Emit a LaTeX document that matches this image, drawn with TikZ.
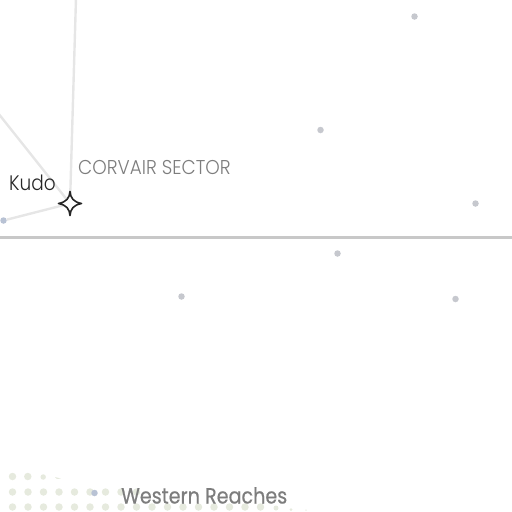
\documentclass[tikz,border=0pt]{standalone}
\usepackage{fontspec}
\setmainfont{Poppins}
\newfontfamily\sectorfont{Poppins Light}[FakeStretch=0.92]
\newfontfamily\namefont{Poppins Light}[FakeStretch=0.88]
\newfontfamily\regionfont{Poppins}[FakeStretch=0.87,FakeBold=0.5]
\usepackage{xcolor}
\definecolor{mroute}{RGB}{230,230,230}
\definecolor{mborder}{RGB}{200,200,200}
\definecolor{mstar}{RGB}{198,200,206}
\definecolor{mnear}{RGB}{184,194,212}
\definecolor{mhex}{RGB}{230,234,222}
\definecolor{mlabel}{RGB}{125,125,125}
\tikzset{
  system/.style={circle, fill=mstar, inner sep=0pt, minimum size=6.5pt},
  hexdot/.style={circle, fill=mhex, inner sep=0pt, minimum size=#1},
  hexdot/.default=7.5pt,
  route/.style={draw=mroute, line width=2.4pt},
  sectorlabel/.style={text=mlabel, font=\sectorfont\fontsize{20}{22}\selectfont, inner sep=0pt},
  regionlabel/.style={text=mlabel, font=\regionfont\fontsize{22}{24}\selectfont, inner sep=0pt},
  namelabel/.style={text=black!85, font=\namefont\fontsize{21}{24}\selectfont, inner sep=0pt}
}
\begin{document}
\begin{tikzpicture}[x=1pt, y=-1pt]
  \useasboundingbox (0,0) rectangle (512,512);
  % hex dots at the bottom left
  \foreach \x in {12.5,27.8} \node [hexdot] at (\x,476.5) {};
  \node [hexdot=5.5pt] at (43.2,477) {};
  \fill [mhex] (55,477) -- (61,478.5) -- (57,479) -- cycle;
  \foreach \i in {0,...,8} \node [hexdot] at (12.5+15.5*\i,492) {};
  \foreach \i in {0,...,16} \node [hexdot] at (12.5+15.5*\i,507) {};
  \node [hexdot=5pt] at (276,508) {};
  \node [hexdot=3pt] at (291,509.5) {};
  \node [hexdot=1.5pt] at (306,510) {};
  % systems
  \node [system] (s1) at (414.5,16.5) {};
  \node [system] (s2) at (320.5,130) {};
  \node [system] (s3) at (475.5,203.5) {};
  \node [system] (s4) at (337.5,253.5) {};
  \node [system] (s5) at (181.5,296.5) {};
  \node [system] (s6) at (455.5,299) {};
  \node [system, fill=mnear] (s7) at (94.5,493) {};
  \node [system, fill=mnear] (s8) at (3.5,220.5) {};
  % routes and the sector border
  \coordinate (r1) at (76,-2);
  \coordinate (r2) at (-2,113);
  \coordinate (b1) at (0,237.5);
  \coordinate (b2) at (512,237.5);
  \node [circle, inner sep=0pt, minimum size=1pt] (kudo) at (70,203.5) {};
  \draw [route] (kudo.center) -- (r1);
  \draw [route] (kudo.center) -- (r2);
  \draw [route] (kudo.center) -- (s8);
  \draw [draw=mborder, line width=3pt] (b1) -- (b2);
  % capital marker
  \draw [draw=black!85, fill=white, line width=1.6pt, line join=round]
    (70,191.5) .. controls (70.5,198) and (73.5,202) .. (81.5,203.5)
    .. controls (73.5,205) and (70.5,209) .. (70,215.5)
    .. controls (69.5,209) and (66.5,205) .. (58.5,203.5)
    .. controls (66.5,202) and (69.5,198) .. cycle;
  % labels
  \node [namelabel, anchor=base west] (kudolabel) at (9,190.5) {Kudo};
  \node [sectorlabel, anchor=base west] (corvair) at (78,174.5) {CORVAIR SECTOR};
  \node [regionlabel, anchor=base west] (western) at (121,503.5) {Western Reaches};
\end{tikzpicture}
\end{document}
